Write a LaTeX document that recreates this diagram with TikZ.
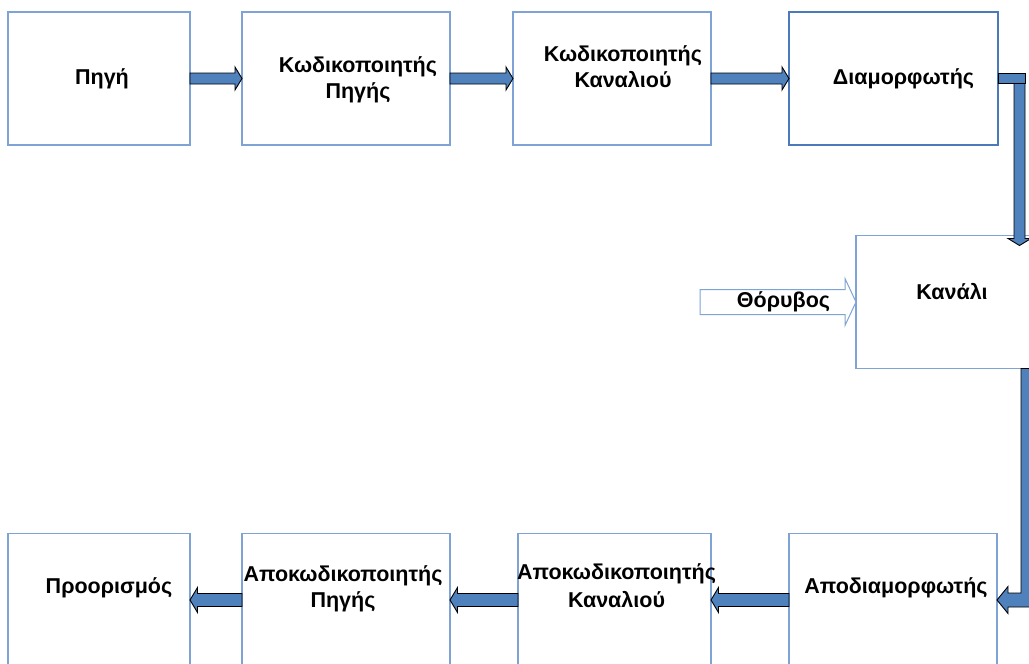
\documentclass[tikz,border=0pt]{standalone}
\usepackage{fontspec}
\setmainfont{Liberation Sans}
\usetikzlibrary{positioning,calc}
\definecolor{boxblue}{RGB}{126,163,212}
\definecolor{darkbox}{RGB}{74,122,186}
\definecolor{steel}{RGB}{79,129,189}

\tikzset{
    arr/.style n args={3}{to path={
        ($(\tikztostart)!#1!90:(\tikztotarget)$)
        -- ($(\tikztotarget)!#3!(\tikztostart)!#1!90:(\tikztotarget)$)
        -- ($(\tikztotarget)!#3!(\tikztostart)!#2!90:(\tikztotarget)$)
        -- (\tikztotarget)
        -- ($(\tikztotarget)!#3!(\tikztostart)!#2!-90:(\tikztotarget)$)
        -- ($(\tikztotarget)!#3!(\tikztostart)!#1!-90:(\tikztotarget)$)
        -- ($(\tikztostart)!#1!-90:(\tikztotarget)$) -- cycle}}
}

\begin{document}
\begin{tikzpicture}[
        x=1pt, y=-1pt,
        node distance=52pt,
        box/.style={draw=boxblue, line width=1.3pt, minimum height=133pt, inner sep=0pt, outer sep=0pt},
        lbl/.style={font=\fontsize{21.5}{26}\selectfont\bfseries, align=center, inner sep=0pt},
        fat/.style={draw=black, fill=steel, line width=0.9pt, arr={5.5pt}{11.5pt}{7pt}},
        fatback/.style={draw=black, fill=steel, line width=0.9pt, arr={6.5pt}{12.5pt}{7.5pt}},
        fatbar/.style={draw=black, fill=steel, line width=0.9pt, to path={
            ($(\tikztostart)!5pt!90:(\tikztotarget)$) -- ($(\tikztotarget)!5pt!-90:(\tikztostart)$)
            -- ($(\tikztotarget)!5pt!90:(\tikztostart)$) -- ($(\tikztostart)!5pt!-90:(\tikztotarget)$) -- cycle}},
        bendleft/.style={draw=black, fill=steel, line width=0.9pt, to path={
            let \p1=(\tikztostart), \p2=(\tikztotarget) in
            (\x1-7pt,\y1) -- (\x1-7pt,\y2+7pt) -- (\x2+11pt,\y2+7pt) -- (\x2+11pt,\y2+13.5pt)
            -- (\x2,\y2) -- (\x2+11pt,\y2-13.5pt) -- (\x2+11pt,\y2-7pt) -- (\x1+7pt,\y2-7pt)
            -- (\x1+7pt,\y1) -- cycle}},
        noisearr/.style={draw=boxblue, fill=white, line width=1pt, arr={12.5pt}{23.5pt}{11pt}}
    ]
        \useasboundingbox (0,0) rectangle (1029,664);
        \clip (0,0) rectangle (1029,664);

        % top row
        \node[box, minimum width=182pt] (src) at (99,78.5) {};
        \node[box, minimum width=208pt, right=of src] (srcenc) {};
        \node[box, minimum width=198pt, right=63pt of srcenc] (chenc) {};
        \node[box, draw=darkbox, line width=2pt, minimum width=209pt, right=78pt of chenc] (mod) {};

        % channel
        \node[box, minimum width=208pt] (chan) at (960,302) {};
        \coordinate (noisein) at (700,302);
        \coordinate (turnA) at ([xshift=27pt]mod.east);
        \coordinate (dropA) at ([xshift=21.5pt,yshift=-5pt]mod.east);

        % bottom row
        \node[box, minimum width=182pt] (dest) at (99,600) {};
        \node[box, minimum width=208pt, right=of dest] (srcdec) {};
        \node[box, minimum width=193pt, right=68pt of srcdec] (chdec) {};
        \node[box, minimum width=208pt, right=78pt of chdec] (demod) {};

        \draw[fat] (src.east) to (srcenc.west);
        \draw[fat] (srcenc.east) to (chenc.west);
        \draw[fat] (chenc.east) to (mod.west);
        \draw[fatbar] (mod.east) to (turnA);
        \draw[fat] (dropA) to ([xshift=59.5pt,yshift=-10pt]chan.north);
        \draw[bendleft] ([xshift=68pt]chan.south) to (demod.east);
        \draw[fatback] (demod.west) to (chdec.east);
        \draw[fatback] (chdec.west) to (srcdec.east);
        \draw[fatback] (srcdec.west) to (dest.east);
        \draw[noisearr] (noisein) to (chan.west);

        \node[lbl] (srclbl) at ([xshift=3pt]src.center) {Πηγή};
        \node[lbl] (srcenclbl) at ([xshift=12pt,yshift=-1.5pt]srcenc.center) {Κωδικοποιητής\\Πηγής};
        \node[lbl] (chenclbl) at ([xshift=11pt,yshift=11.5pt]chenc.center) {Κωδικοποιητής\\Καναλιού};
        \node[lbl] (modlbl) at ([xshift=10pt]mod.center) {Διαμορφωτής};
        \node[lbl] (chanlbl) at ([xshift=-8pt,yshift=10.5pt]chan.center) {Κανάλι};
        \node[lbl] (noiselbl) at (783.5,302) {Θόρυβος};
        \node[lbl] (destlbl) at ([xshift=10pt,yshift=12pt]dest.center) {Προορισμός};
        \node[lbl] (srcdeclbl) at ([xshift=-3pt,yshift=11pt]srcdec.center) {Αποκωδικοποιητής\\Πηγής};
        \node[lbl] (chdeclbl) at ([xshift=2pt,yshift=14pt]chdec.center) {Αποκωδικοποιητής\\[2pt]Καναλιού};
        \node[lbl] (demodlbl) at ([xshift=3pt,yshift=12pt]demod.center) {Αποδιαμορφωτής};
    \end{tikzpicture}
\end{document}
